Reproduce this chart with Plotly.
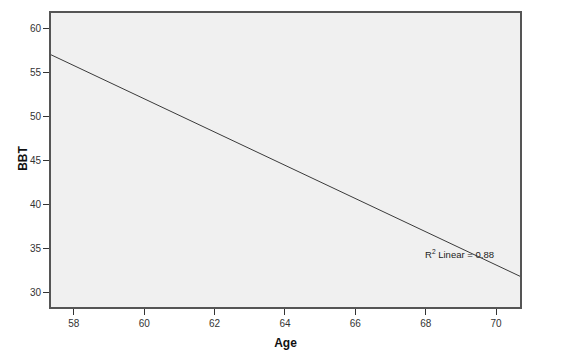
import plotly.graph_objects as go

# Fit line endpoints (Age vs BBT)
age = [57.35, 70.68]
bbt = [57.04, 31.8]
x_ticks = [58, 60, 62, 64, 66, 68, 70]
y_ticks = [30, 35, 40, 45, 50, 55, 60]
r2_label = "R<sup>2</sup> Linear = 0.88"

fig = go.Figure()
fig.add_trace(go.Scatter(x=age, y=bbt, mode="lines",
                         line=dict(color="#3a3a3a", width=1), showlegend=False,
                         hoverinfo="skip"))

fig.add_annotation(x=68.95, y=34.3, text=r2_label, showarrow=False,
                   font=dict(family="Arial, Liberation Sans", size=9.5, color="#222"),
                   xanchor="center", yanchor="middle")

# Y-axis title placed as rotated text
fig.add_annotation(xref="paper", yref="paper", x=-0.06, y=0.507, text="<b>BBT</b>",
                   textangle=-90, showarrow=False, xanchor="center", yanchor="middle",
                   font=dict(family="Arial, Liberation Sans", size=12, color="#111"))

axis_common = dict(showgrid=False, zeroline=False, showline=True, linecolor="#555",
                   linewidth=2, mirror=True, ticks="outside", ticklen=6, tickwidth=1,
                   tickcolor="#333", automargin=False,
                   tickfont=dict(family="Arial, Liberation Sans", size=10, color="#333"))

fig.update_layout(
    width=555, height=348,
    margin=dict(l=43, r=43, t=5, b=49),
    paper_bgcolor="white", plot_bgcolor="#f0f0f0",
    xaxis=dict(range=[57.35, 70.68], tickvals=x_ticks,
               title=dict(text="<b>Age</b>", standoff=11,
                          font=dict(family="Arial, Liberation Sans", size=12, color="#111")),
               **axis_common),
    yaxis=dict(range=[28.3, 61.8], tickvals=y_ticks, **axis_common),
)

fig.write_html("out.html")
